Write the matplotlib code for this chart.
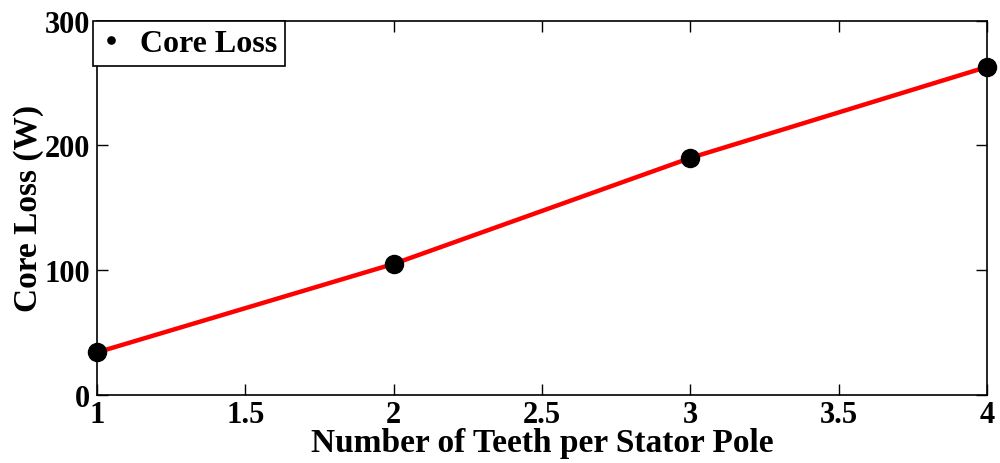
import numpy as np
import matplotlib.pyplot as plt

# teeth per stator pole vs. core loss
teeth = [1, 2, 3, 4]
core_loss = [34, 105, 190, 263]

x_ticks = [1, 1.5, 2, 2.5, 3, 3.5, 4]
x_tick_labels = ['1', '1.5', '2', '2.5', '3', '3.5', '4']
y_ticks = [0, 100, 200, 300]

plt.rcParams['font.family'] = ['Liberation Serif', 'DejaVu Serif']
plt.rcParams['font.weight'] = 'bold'

fig = plt.figure(figsize=(10, 4.64), dpi=100)
ax = fig.add_axes([0.097, 0.147, 0.89, 0.806])

ax.plot(teeth, core_loss, color='red', linewidth=3.2, zorder=2, clip_on=False)
ax.plot(teeth, core_loss, linestyle='none', marker='o', markersize=13,
        color='black', zorder=3, clip_on=False, label='Core Loss')

ax.set_xlim(1, 4)
ax.set_ylim(0, 300)
ax.set_xticks(x_ticks)
ax.set_xticklabels(x_tick_labels)
ax.set_yticks(y_ticks)

ax.tick_params(direction='in', length=8, width=1, top=True, right=True,
               labelsize=22)
ax.tick_params(axis='x', pad=4)
ax.tick_params(axis='y', pad=5)
for lab in ax.get_xticklabels() + ax.get_yticklabels():
    lab.set_fontweight('bold')
for sp in ax.spines.values():
    sp.set_linewidth(1.2)

ax.set_xlabel('Number of Teeth per Stator Pole', fontsize=24,
              fontweight='bold', labelpad=-2)
ax.set_ylabel('Core Loss (W)', fontsize=24, fontweight='bold', labelpad=0)

leg = ax.legend(loc='upper left', bbox_to_anchor=(-0.004, 1.0),
                borderaxespad=0, fancybox=False, framealpha=1,
                edgecolor='black', fontsize=23, markerscale=0.4,
                handlelength=0.6, handletextpad=0.6, borderpad=0.25)
leg.get_frame().set_linewidth(1.2)
for t in leg.get_texts():
    t.set_fontweight('bold')

fig.savefig('out.png', dpi=100)
